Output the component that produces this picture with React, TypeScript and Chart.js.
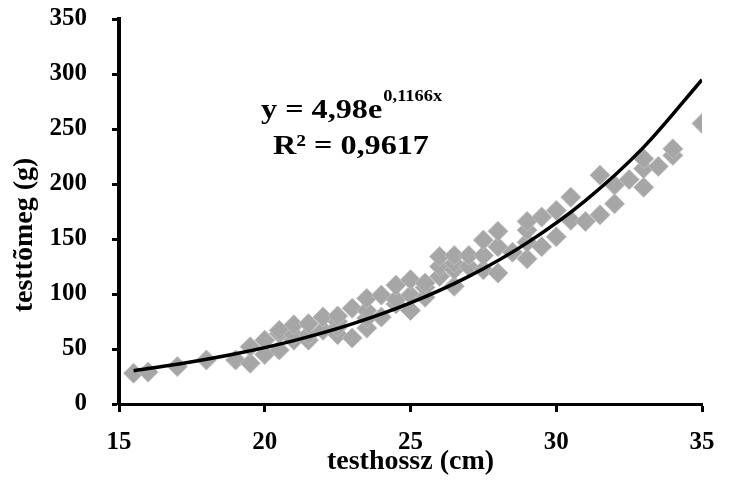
import React, { useEffect, useRef } from 'react';
import { Chart, registerables } from 'chart.js';

Chart.register(...registerables);

// Body length (cm) and body mass (g) of the measured fish
const lengthCm = [
  15.5, 16, 17, 18, 19, 19.5, 19.5, 20, 20, 20.5, 20.5, 20.5, 21, 21, 21, 21.5, 21.5, 21.5,
  22, 22, 22.5, 22.5, 22.5, 22.5, 23, 23, 23.5, 23.5, 23.5, 23.5, 24, 24, 24.5, 24.5, 24.5,
  25, 25, 25, 25.5, 25.5, 25.5, 26, 26, 26, 26.5, 26.5, 26.5, 26.5, 27, 27, 27.5, 27.5, 27.5,
  28, 28, 28, 28.5, 29, 29, 29, 29, 29.5, 29.5, 30, 30, 30.5, 30.5, 31, 31.5, 31.5,
  32, 32, 32.5, 33, 33, 33, 33.5, 34, 34, 35,
];
const massG = [
  28, 29, 34, 40, 40, 37, 52, 45, 58, 49, 64, 67, 58, 63, 72, 58, 63, 73,
  67, 79, 63, 70, 75, 80, 60, 87, 69, 78, 85, 96, 79, 99, 91, 95, 108,
  85, 99, 113, 97, 106, 110, 116, 125, 134, 107, 122, 128, 135, 125, 135, 122, 135, 149,
  119, 143, 157, 138, 132, 147, 158, 166, 143, 170, 152, 176, 167, 188, 166, 172, 208,
  182, 199, 204, 197, 214, 223, 216, 226, 232, 255,
];

// Exponential trend line
const trendX = [15.5, 17, 19, 21, 23, 25, 27, 29, 31, 33, 35];
const trendY = [30.3, 36.1, 45.6, 57.6, 72.8, 91.9, 116.0, 146.5, 184.9, 233.5, 294.8];

const xTickValues = [15, 20, 25, 30, 35];
const yTickValues = [0, 50, 100, 150, 200, 250, 300, 350];

const X_TITLE = 'testhossz (cm)';
const Y_TITLE = 'testtõmeg (g)';
const EQ_MAIN = 'y = 4,98e';
const EQ_EXP = '0,1166x';
const EQ_R2 = 'R² = 0,9617';

const FAMILY = '"Liberation Serif", "Times New Roman", serif';

const textPlugin = {
  id: 'extraText',
  afterDraw(chart: any) {
    const ctx = chart.ctx as CanvasRenderingContext2D;
    const { left, top } = chart.chartArea;
    const cx = left + 232;
    const sx = 1.15;
    const big = `bold 28px ${FAMILY}`;
    const small = `bold 16px ${FAMILY}`;

    // y axis title
    ctx.save();
    ctx.fillStyle = '#000';
    ctx.font = big;
    ctx.textAlign = 'center';
    ctx.textBaseline = 'middle';
    ctx.translate(25, top + 216);
    ctx.rotate(-Math.PI / 2);
    ctx.fillText(Y_TITLE, 0, 0);
    ctx.restore();

    // equation
    ctx.save();
    ctx.fillStyle = '#000';
    ctx.textBaseline = 'alphabetic';
    ctx.textAlign = 'left';
    ctx.font = big;
    const w1 = ctx.measureText(EQ_MAIN).width;
    ctx.font = small;
    const w2 = ctx.measureText(EQ_EXP).width;
    ctx.translate(cx - ((w1 + w2) * sx) / 2, top + 99);
    ctx.scale(sx, 1);
    ctx.font = big;
    ctx.fillText(EQ_MAIN, 0, 0);
    ctx.font = small;
    ctx.fillText(EQ_EXP, w1 + 1, -17);
    ctx.restore();

    ctx.save();
    ctx.fillStyle = '#000';
    ctx.textBaseline = 'alphabetic';
    ctx.textAlign = 'left';
    ctx.font = big;
    const w3 = ctx.measureText(EQ_R2).width;
    ctx.translate(cx - (w3 * sx) / 2, top + 135);
    ctx.scale(sx, 1);
    ctx.fillText(EQ_R2, 0, 0);
    ctx.restore();
  },
};

export default function App() {
  const canvasRef = useRef<HTMLCanvasElement | null>(null);

  useEffect(() => {
    if (!canvasRef.current) return;
    const points = lengthCm.map((x, i) => ({ x, y: massG[i] }));
    const trend = trendX.map((x, i) => ({ x, y: trendY[i] }));
    const tickFont = { family: FAMILY, size: 25, weight: 'bold' as const };
    const titleFont = { family: FAMILY, size: 28, weight: 'bold' as const };

    const chart = new Chart(canvasRef.current, {
      type: 'scatter',
      data: {
        datasets: [
          {
            type: 'line',
            label: 'trend',
            data: trend,
            borderColor: '#000',
            borderWidth: 3.5,
            pointRadius: 0,
            fill: false,
            cubicInterpolationMode: 'monotone',
          } as any,
          {
            label: 'testtömeg',
            data: points,
            pointStyle: 'rectRot',
            pointRadius: 10,
            backgroundColor: '#a6a6a6',
            borderColor: '#bdbdbd',
            borderWidth: 1,
          },
        ],
      },
      options: {
        responsive: false,
        animation: false,
        layout: { padding: { top: 19, right: 27, left: 0, bottom: 0 } },
        plugins: {
          legend: { display: false },
          tooltip: { enabled: false },
        },
        scales: {
          x: {
            type: 'linear',
            min: 15,
            max: 35,
            afterFit: (s: any) => { s.height = 98; s.paddingLeft = 0; s.paddingRight = 0; },
            afterBuildTicks: (s: any) => { s.ticks = xTickValues.map((v) => ({ value: v })); },
            ticks: { font: tickFont, color: '#000', padding: 16 },
            grid: { drawOnChartArea: false, drawTicks: true, tickLength: 8, tickWidth: 3, tickColor: '#000' },
            border: { display: true, color: '#000', width: 3 },
            title: { display: true, text: X_TITLE, font: titleFont, color: '#000', padding: { top: 0, bottom: 23 } },
          },
          y: {
            type: 'linear',
            min: 0,
            max: 350,
            afterFit: (s: any) => { s.width = 119; s.paddingTop = 0; s.paddingBottom = 0; },
            afterBuildTicks: (s: any) => { s.ticks = yTickValues.map((v) => ({ value: v })); },
            ticks: { font: tickFont, color: '#000', padding: 25 },
            grid: { drawOnChartArea: false, drawTicks: true, tickLength: 7, tickWidth: 3, tickColor: '#000' },
            border: { display: true, color: '#000', width: 4 },
            title: { display: false },
          },
        },
      },
      plugins: [textPlugin],
    });
    return () => chart.destroy();
  }, []);

  return (
    <div style={{ position: 'absolute', left: 0, top: 0, width: 729, height: 502, background: '#fff' }}>
      <canvas ref={canvasRef} width={729} height={502} style={{ display: 'block' }} />
    </div>
  );
}
